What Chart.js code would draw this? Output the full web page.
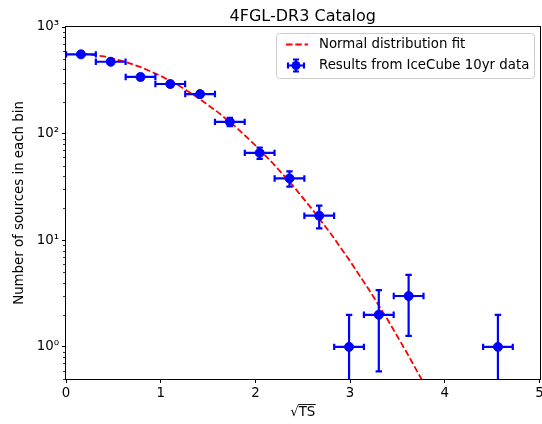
<!DOCTYPE html>
<html>
<head>
<meta charset="utf-8">
<script src="https://cdn.jsdelivr.net/npm/chart.js@4.4.0/dist/chart.umd.min.js"></script>
<style>
  html, body { margin: 0; background: #ffffff; overflow: hidden; }
</style>
</head>
<body>
<canvas id="chart" width="545" height="424"></canvas>
<script>
// data
const binCenters = [0.158, 0.472, 0.787, 1.101, 1.416, 1.730, 2.045, 2.360, 2.674, 2.989, 3.303, 3.618, 4.561];
const counts = [554, 472, 340, 292, 235, 129, 66, 38, 17, 1, 2, 3, 1];
const countErr = [23.5, 21.7, 18.4, 17.1, 15.3, 11.4, 8.1, 6.2, 4.1, 1, 1.41, 1.73, 1];
const binHalfWidth = [0.157, 0.157, 0.157, 0.157, 0.157, 0.157, 0.157, 0.157, 0.157, 0.157, 0.157, 0.157, 0.157];

// normal distribution fit curve (dashed red)
const fitX = [0.16, 0.4, 0.6, 0.8, 1.0, 1.2, 1.4, 1.6, 1.8, 2.0, 2.2, 2.4, 2.6, 2.8, 3.0, 3.2, 3.4, 3.6, 3.8];
const fitY = [567, 530, 479, 417, 348, 280, 215, 160, 114, 77.7, 51.0, 32.2, 19.5, 11.4, 6.37, 3.43, 1.78, 0.88, 0.42];

// ticks
const xTicks = [0, 1, 2, 3, 4, 5];
const yTicks = [1, 10, 100, 1000];
const yTickLabels = ["10⁰", "10¹", "10²", "10³"];

const chartTitle = "4FGL-DR3 Catalog";
const xTitle = "√TS";
const yTitle = "Number of sources in each bin";
const fitLabel = "Normal distribution fit";
const dataLabel = "Results from IceCube 10yr data";

const BLUE = "#0000ff";
const RED = "#ff0000";
const FONT = "'DejaVu Sans', sans-serif";
const FS = 13.33;

// minor tick positions on the log axis
const minorTicks = [];
for (let d = 0.1; d <= 100; d *= 10) {
    for (let m = 2; m <= 9; m++) {
        const v = m * d;
        if (v >= 0.5 && v <= 1000) minorTicks.push(v);
    }
}

// error bars for the data points
const errorBarPlugin = {
    id: "errorBars",
    beforeDatasetDraw(chart, args) {
        if (args.index !== 1) return;
        const ctx = chart.ctx;
        const xs = chart.scales.x;
        const ys = chart.scales.y;
        const area = chart.chartArea;
        const cap = 3.2;
        ctx.save();
        ctx.beginPath();
        ctx.rect(area.left, area.top, area.right - area.left, area.bottom - area.top);
        ctx.clip();
        ctx.strokeStyle = BLUE;
        ctx.lineWidth = 2.2;
        for (let i = 0; i < binCenters.length; i++) {
            const cx = xs.getPixelForValue(binCenters[i]);
            const cy = ys.getPixelForValue(counts[i]);
            const x0 = xs.getPixelForValue(binCenters[i] - binHalfWidth[i]);
            const x1 = xs.getPixelForValue(binCenters[i] + binHalfWidth[i]);
            const lo = counts[i] - countErr[i];
            const y0 = lo > 0 ? ys.getPixelForValue(lo) : area.bottom + 20;
            const y1 = ys.getPixelForValue(counts[i] + countErr[i]);
            ctx.beginPath();
            // horizontal bar + caps
            ctx.moveTo(x0, cy); ctx.lineTo(x1, cy);
            ctx.moveTo(x0, cy - cap); ctx.lineTo(x0, cy + cap);
            ctx.moveTo(x1, cy - cap); ctx.lineTo(x1, cy + cap);
            // vertical bar + caps
            ctx.moveTo(cx, y0); ctx.lineTo(cx, y1);
            ctx.moveTo(cx - cap, y1); ctx.lineTo(cx + cap, y1);
            if (lo > 0) { ctx.moveTo(cx - cap, y0); ctx.lineTo(cx + cap, y0); }
            ctx.stroke();
        }
        ctx.restore();
    }
};

// title, frame, minor ticks, overline on the x title and the legend box
const decorPlugin = {
    id: "decor",
    afterDraw(chart) {
        const ctx = chart.ctx;
        const area = chart.chartArea;
        const ys = chart.scales.y;
        const xs = chart.scales.x;
        ctx.save();
        // title centred over the axes
        ctx.fillStyle = "#000000";
        ctx.font = "16px " + FONT;
        ctx.textAlign = "center";
        ctx.textBaseline = "alphabetic";
        ctx.fillText(chartTitle, (area.left + area.right) / 2, 21);

        // frame
        ctx.strokeStyle = "#000000";
        ctx.lineWidth = 1;
        ctx.strokeRect(Math.round(area.left) - 0.5, Math.round(area.top) - 0.5,
            Math.round(area.right - area.left) + 1, Math.round(area.bottom - area.top) + 1);
        // minor ticks
        ctx.beginPath();
        for (const v of minorTicks) {
            const y = Math.round(ys.getPixelForValue(v)) + 0.5;
            ctx.moveTo(area.left - 0.5, y);
            ctx.lineTo(area.left - 3, y);
        }
        ctx.lineWidth = 0.8;
        ctx.stroke();

        // overline for sqrt(TS)
        ctx.font = FS + "px " + FONT;
        const fullW = ctx.measureText(xTitle).width;
        const rootW = ctx.measureText("√").width;
        const cx = (xs.left + xs.right) / 2;
        const startX = cx - fullW / 2 + rootW - 0.5;
        ctx.beginPath();
        ctx.moveTo(startX, 404.5);
        ctx.lineTo(cx + fullW / 2 + 0.5, 404.5);
        ctx.lineWidth = 0.9;
        ctx.stroke();

        // legend
        const lx = 276, ly = 33, lw = 258, lh = 45;
        ctx.beginPath();
        ctx.roundRect(lx + 0.5, ly + 0.5, lw, lh, 3);
        ctx.fillStyle = "rgba(255,255,255,0.8)";
        ctx.fill();
        ctx.strokeStyle = "#cccccc";
        ctx.lineWidth = 1;
        ctx.stroke();

        const row1 = 44.5, row2 = 65.5;
        // dashed line
        ctx.beginPath();
        ctx.setLineDash([6.5, 2.8]);
        ctx.moveTo(286, row1);
        ctx.lineTo(308, row1);
        ctx.strokeStyle = RED;
        ctx.lineWidth = 1.8;
        ctx.stroke();
        ctx.setLineDash([]);
        // error bar marker
        const mx = 296;
        ctx.beginPath();
        ctx.strokeStyle = BLUE;
        ctx.lineWidth = 2.2;
        ctx.moveTo(mx - 8, row2); ctx.lineTo(mx + 8, row2);
        ctx.moveTo(mx - 8, row2 - 3); ctx.lineTo(mx - 8, row2 + 3);
        ctx.moveTo(mx + 8, row2 - 3); ctx.lineTo(mx + 8, row2 + 3);
        ctx.moveTo(mx, row2 - 6); ctx.lineTo(mx, row2 + 6);
        ctx.moveTo(mx - 3, row2 - 6); ctx.lineTo(mx + 3, row2 - 6);
        ctx.moveTo(mx - 3, row2 + 6); ctx.lineTo(mx + 3, row2 + 6);
        ctx.stroke();
        ctx.beginPath();
        ctx.arc(mx, row2, 4.5, 0, Math.PI * 2);
        ctx.fillStyle = BLUE;
        ctx.fill();
        // labels
        ctx.fillStyle = "#000000";
        ctx.font = FS + "px " + FONT;
        ctx.textBaseline = "middle";
        ctx.textAlign = "left";
        ctx.fillText(chart.data.datasets[0].label, 319, row1);
        ctx.fillText(chart.data.datasets[1].label, 319, row2);
        ctx.restore();
    }
};

const ctx = document.getElementById("chart").getContext("2d");

new Chart(ctx, {
    type: "scatter",
    data: {
        datasets: [
            {
                label: fitLabel,
                data: fitX.map((x, i) => ({ x: x, y: fitY[i] })),
                showLine: true,
                borderColor: RED,
                borderWidth: 1.8,
                borderDash: [6.5, 2.8],
                pointRadius: 0,
                fill: false,
                clip: 0,
                order: 1
            },
            {
                label: dataLabel,
                data: binCenters.map((x, i) => ({ x: x, y: counts[i] })),
                backgroundColor: BLUE,
                borderColor: BLUE,
                borderWidth: 1,
                pointRadius: 4.5,
                order: 0
            }
        ]
    },
    options: {
        responsive: false,
        animation: false,
        layout: { padding: { left: 0, right: 0, top: 27, bottom: 0 } },
        plugins: {
            legend: { display: false },
            tooltip: { enabled: false },
            title: { display: false }
        },
        scales: {
            x: {
                type: "linear",
                min: 0,
                max: 5,
                afterBuildTicks: (scale) => { scale.ticks = xTicks.map(v => ({ value: v })); },
                afterFit: (scale) => {
                    scale.height = 45;
                    scale.paddingLeft = 0;
                    scale.paddingRight = 0;
                },
                ticks: {
                    color: "#000000",
                    font: { family: FONT, size: FS },
                    padding: 3,
                    autoSkip: false,
                    maxRotation: 0,
                    callback: (v) => String(v)
                },
                grid: { display: true, drawOnChartArea: false, drawTicks: true, tickLength: 4, tickColor: "#000000" },
                border: { display: false },
                title: {
                    display: true,
                    text: xTitle,
                    color: "#000000",
                    font: { family: FONT, size: FS },
                    padding: { top: 0, bottom: 3 }
                }
            },
            y: {
                type: "logarithmic",
                min: 0.5,
                max: 1000,
                afterBuildTicks: (scale) => { scale.ticks = yTicks.map(v => ({ value: v })); },
                afterFit: (scale) => {
                    scale.width = 66;
                    scale.paddingTop = 0;
                    scale.paddingBottom = 0;
                },
                ticks: {
                    color: "#000000",
                    font: { family: FONT, size: FS },
                    padding: 3,
                    autoSkip: false,
                    callback: (v, i) => yTickLabels[i]
                },
                grid: { display: true, drawOnChartArea: false, drawTicks: true, tickLength: 4, tickColor: "#000000" },
                border: { display: false },
                title: {
                    display: true,
                    text: yTitle,
                    color: "#000000",
                    font: { family: FONT, size: FS },
                    padding: { top: 12, bottom: 0 }
                }
            }
        }
    },
    plugins: [errorBarPlugin, decorPlugin]
});
</script>
</body>
</html>
